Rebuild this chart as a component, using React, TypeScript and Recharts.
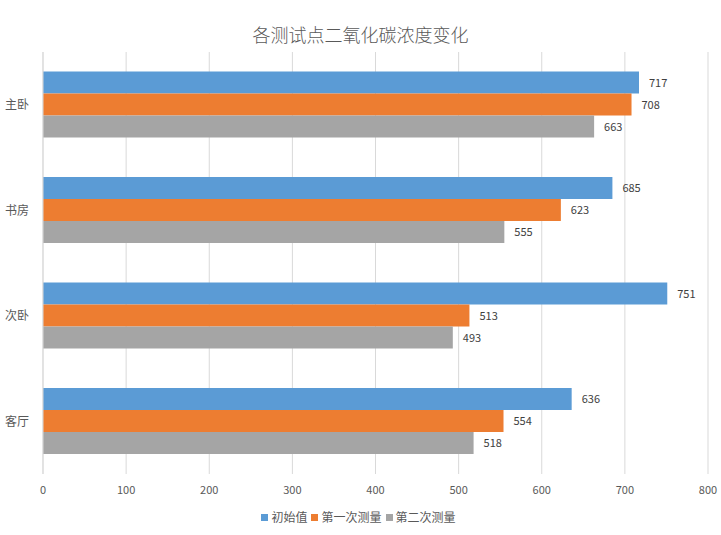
import { BarChart, Bar, XAxis, YAxis, CartesianGrid, LabelList } from 'recharts'

const categories = ['主卧', '书房', '次卧', '客厅']
const initialValues = [717, 685, 751, 636]
const firstValues = [708, 623, 513, 554]
const secondValues = [663, 555, 493, 518]
const xTicks = [0, 100, 200, 300, 400, 500, 600, 700, 800]

const SERIES = [
  { key: 'initial', name: '初始值', color: '#5B9BD5' },
  { key: 'first', name: '第一次测量', color: '#ED7D31' },
  { key: 'second', name: '第二次测量', color: '#A5A5A5' },
]

const data = categories.map((name, i) => ({
  name,
  initial: initialValues[i],
  first: firstValues[i],
  second: secondValues[i],
}))

const FONT = '"Noto Sans CJK SC", "Noto Sans", sans-serif'

export default function App() {
  return (
    <div style={{ position: 'absolute', left: 0, top: 0, width: 721, height: 535, background: '#fff', fontFamily: FONT }}>
      <div
        style={{
          position: 'absolute', top: 22, left: 0, width: 721, textAlign: 'center',
          fontSize: 18, color: '#595959', fontWeight: 300, lineHeight: '24px',
        }}
      >
        各测试点二氧化碳浓度变化
      </div>
      <BarChart
        width={721}
        height={535}
        data={data}
        layout="vertical"
        margin={{ top: 52, right: 13, bottom: 31, left: 0 }}
        barCategoryGap="18.6%"
        barGap={0}
      >
        <CartesianGrid horizontal={false} stroke="#d9d9d9" />
        <XAxis
          type="number"
          domain={[0, 800]}
          ticks={xTicks}
          height={30}
          axisLine={false}
          tickLine={false}
          tickMargin={6}
          tick={{ fill: '#595959', fontSize: 11, fontFamily: FONT }}
        />
        <YAxis
          type="category"
          dataKey="name"
          width={43}
          axisLine={{ stroke: '#d9d9d9' }}
          tickLine={false}
          tickMargin={8}
          tick={{ fill: '#595959', fontSize: 12, fontFamily: FONT }}
        />
        {SERIES.map((s) => (
          <Bar key={s.key} dataKey={s.key} name={s.name} fill={s.color} isAnimationActive={false}>
            <LabelList dataKey={s.key} position="right" offset={10} fill="#404040" fontSize={11} fontFamily={FONT} />
          </Bar>
        ))}
      </BarChart>
      <div
        style={{
          position: 'absolute', top: 508, left: 0, width: 721, display: 'flex', justifyContent: 'center',
          fontSize: 12, color: '#595959', lineHeight: '18px',
        }}
      >
        {SERIES.map((s) => (
          <span key={s.key} style={{ display: 'flex', alignItems: 'center', marginRight: 4 }}>
            <span style={{ width: 7, height: 7, background: s.color, marginRight: 3, display: 'inline-block' }} />
            {s.name}
          </span>
        ))}
      </div>
    </div>
  )
}
